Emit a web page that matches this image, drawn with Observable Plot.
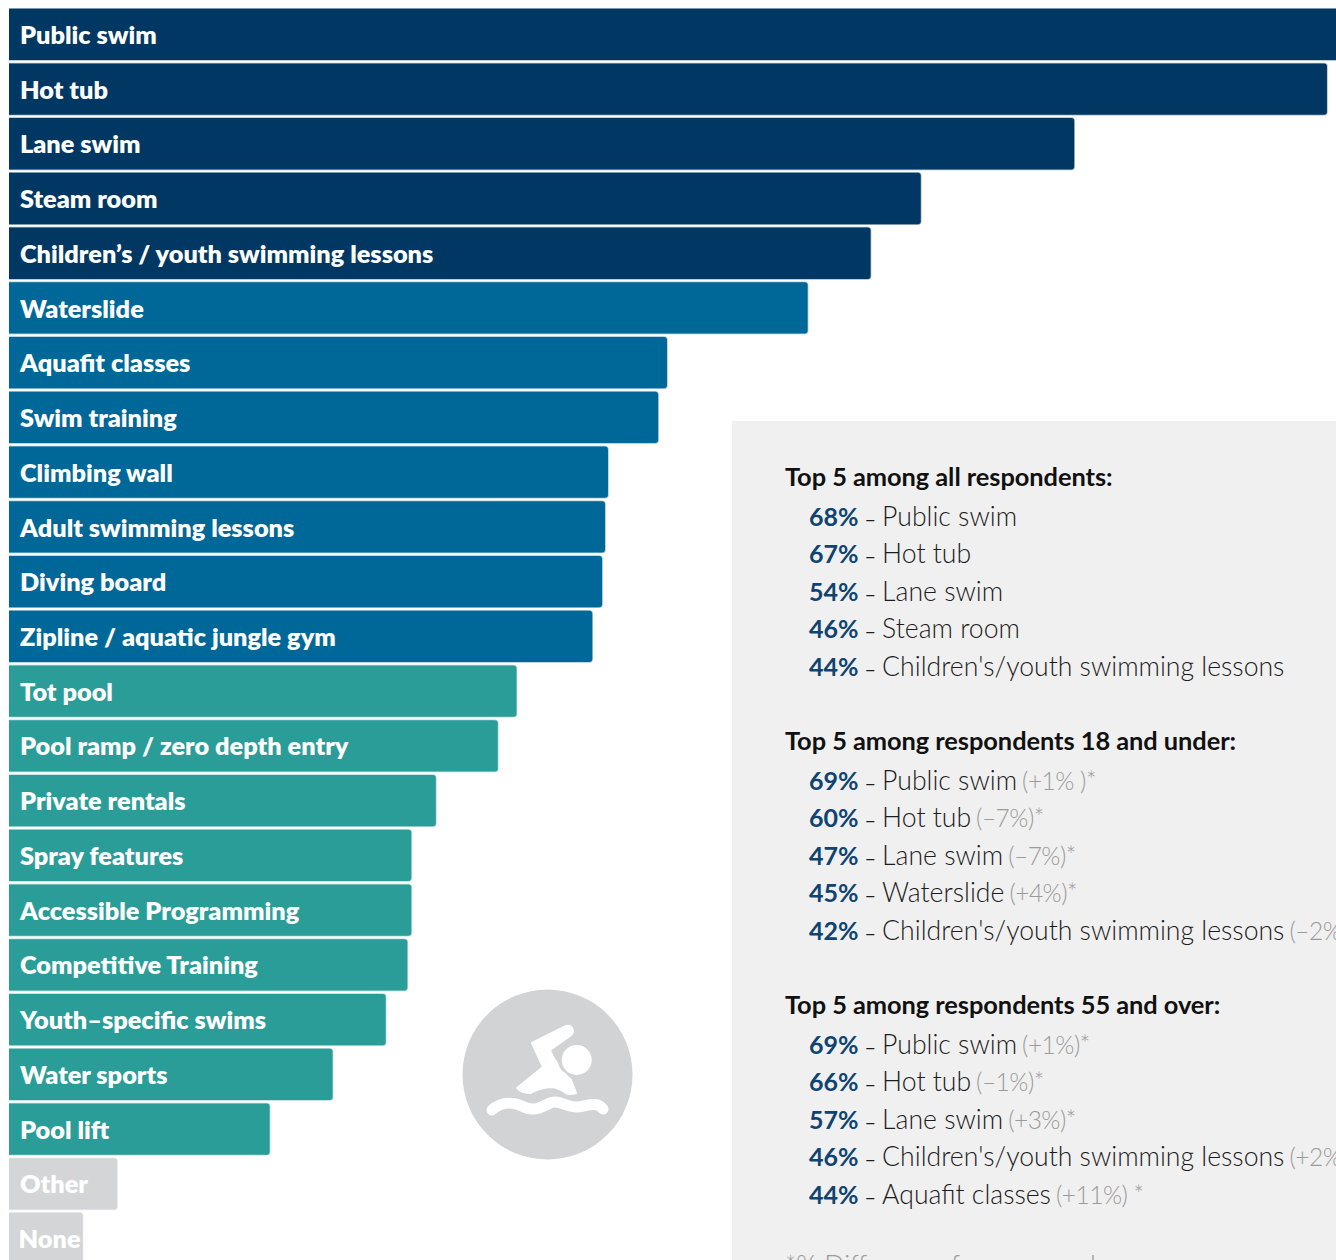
<!DOCTYPE html>
<html>
<head>
<meta charset="utf-8">
<script src="https://cdn.jsdelivr.net/npm/d3@7"></script>
<script src="https://cdn.jsdelivr.net/npm/@observablehq/plot@0.6"></script>
<style>
  html, body { margin: 0; padding: 0; background: #fff; }
  #page { position: relative; width: 1336px; height: 1260px; overflow: hidden; }
  #chart svg { display: block; }
  #panel { position: absolute; left: 732px; top: 421px; width: 604px; height: 839px; background: #f0f0f0; overflow: hidden;
           font-family: Lato, sans-serif; font-size: 26.6px; color: #1c1c1c; font-weight: 300; }
  .group { position: absolute; left: 53px; white-space: nowrap; }
  .head { font-weight: 700; line-height: 37.5px; height: 37.5px; font-size: 25.4px; color: #111; letter-spacing: -0.05px; }
  .row { position: relative; top: 2px; line-height: 37.5px; height: 37.5px; padding-left: 24px; display: flex; align-items: baseline; }
  .row b { color: #0e4372; font-weight: 700; font-size: 25px; }
  .row i { font-style: normal; font-size: 20px; font-weight: 400; margin: 0 6px 0 6px; }
  .row em { font-style: normal; white-space: pre; }
  .row span { color: #9a9a9a; margin-left: 5px; font-size: 24.5px; letter-spacing: -0.5px; }
  #note { position: absolute; left: 53px; top: 828px; color: #9a9a9a; white-space: nowrap; }
  #icon { position: absolute; left: 462px; top: 989px; }
</style>
</head>
<body>
<div id="page">
  <div id="chart"></div>
  <svg id="icon" width="171" height="171" viewBox="0 0 171 171">
    <circle cx="85.5" cy="85.5" r="85" fill="#d1d3d4"/>
    <path fill="#fff" stroke="#fff" stroke-width="2" stroke-linejoin="round" d="M70 54 L104 37 Q110 36 111 42 Q111 45 108 47 L88 61 Q90 68 95 74 Q97 82 103 85 L109 91 L114 104 Q108 106 104 104 Q96 98 88 98 Q78 99 68 104 Q60 104 55 99 L81 78 Z"/>
    <circle cx="114.7" cy="71" r="15" fill="#fff"/>
    <path fill="none" stroke="#fff" stroke-width="11" stroke-linecap="round" d="M30 121 C40 112 52 113 62 118 C72 123 80 118 88 114 C96 110 106 119 116 118 C126 117 134 112 141 120"/>
  </svg>
  <div id="panel"></div>
</div>
<script>
// Share of respondents choosing each aquatic amenity (%)
const amenities = ["Public swim", "Hot tub", "Lane swim", "Steam room", "Children’s / youth swimming lessons",
  "Waterslide", "Aquafit classes", "Swim training", "Climbing wall", "Adult swimming lessons", "Diving board",
  "Zipline / aquatic jungle gym", "Tot pool", "Pool ramp / zero depth entry", "Private rentals", "Spray features",
  "Accessible Programming", "Competitive Training", "Youth–specific swims", "Water sports", "Pool lift", "Other", "None"];
const shares = [68, 67, 54.15, 46.35, 43.8, 40.6, 33.45, 33, 30.45, 30.3, 30.15, 29.65, 25.8, 24.85, 21.7, 20.45, 20.45, 20.25, 19.15, 16.45, 13.25, 5.5, 3.75];
const tiers = ["top", "top", "top", "top", "top",
  "mid", "mid", "mid", "mid", "mid", "mid", "mid",
  "low", "low", "low", "low", "low", "low", "low", "low", "low",
  "none", "none"];
const tierNames = ["top", "mid", "low", "none"];
const tierColors = ["#003863", "#006899", "#2a9d98", "#d4d5d7"];

// Summary lists: [percentage, amenity, change against all respondents]
const allRespondents = [["68%", "Public swim"], ["67%", "Hot tub"], ["54%", "Lane swim"], ["46%", "Steam room"], ["44%", "Children's/youth swimming lessons"]];
const under18 = [["69%", "Public swim", "(+1% )*"], ["60%", "Hot tub", "(–7%)*"], ["47%", "Lane swim", "(–7%)*"], ["45%", "Waterslide", "(+4%)*"], ["42%", "Children's/youth swimming lessons", "(–2%)*"]];
const over55 = [["69%", "Public swim", "(+1%)*"], ["66%", "Hot tub", "(–1%)*"], ["57%", "Lane swim", "(+3%)*"], ["46%", "Children's/youth swimming lessons", "(+2%)*"], ["44%", "Aquafit classes", "(+11%) *"]];
const lists = [["Top 5 among all respondents:", allRespondents], ["Top 5 among respondents 18 and under:", under18], ["Top 5 among respondents 55 and over:", over55]];
const footnote = "*% Difference from general";

const rows = amenities.map((name, i) => ({name, share: shares[i], tier: tiers[i]}));
const labelStyle = {x: 0, y: "name", text: "name", dy: 1, textAnchor: "start", fill: "white",
  fontFamily: "Lato, sans-serif", fontWeight: 800, fontSize: 25.3};

const chart = Plot.plot({
  width: 1336,
  height: 1260,
  marginLeft: 9, marginRight: 0, marginTop: 0, marginBottom: 0,
  style: {background: "transparent"},
  x: {domain: [0, 67.46], range: [9, 1336], axis: null},
  y: {domain: amenities, range: [7, 1265.8], paddingInner: 0.063, paddingOuter: 0.03, round: false, axis: null},
  color: {domain: tierNames, range: tierColors},
  marks: [
    Plot.barX(rows, {
      x1: -0.5, x2: "share", y: "name", fill: "tier", stroke: "tier",
      strokeOpacity: 0.35, strokeWidth: 1.5, rx: 3, clip: true
    }),
    Plot.text(rows.filter((d) => d.name !== "None"), {...labelStyle, dx: 10.5}),
    Plot.text(rows.filter((d) => d.name === "None"), {...labelStyle, dx: 9})
  ]
});
document.getElementById("chart").append(chart);

const panel = d3.select("#panel");
const groupTops = [37, 301, 565];
lists.forEach(([title, items], g) => {
  const group = panel.append("div").attr("class", "group").style("top", groupTops[g] + "px");
  group.append("div").attr("class", "head").text(title);
  items.forEach(([pct, label, delta]) => {
    const row = group.append("div").attr("class", "row");
    row.append("b").text(pct);
    row.append("i").text("–");
    row.append("em").text(label);
    if (delta) row.append("span").text(delta);
  });
});
panel.append("div").attr("id", "note").text(footnote);
</script>
</body>
</html>
